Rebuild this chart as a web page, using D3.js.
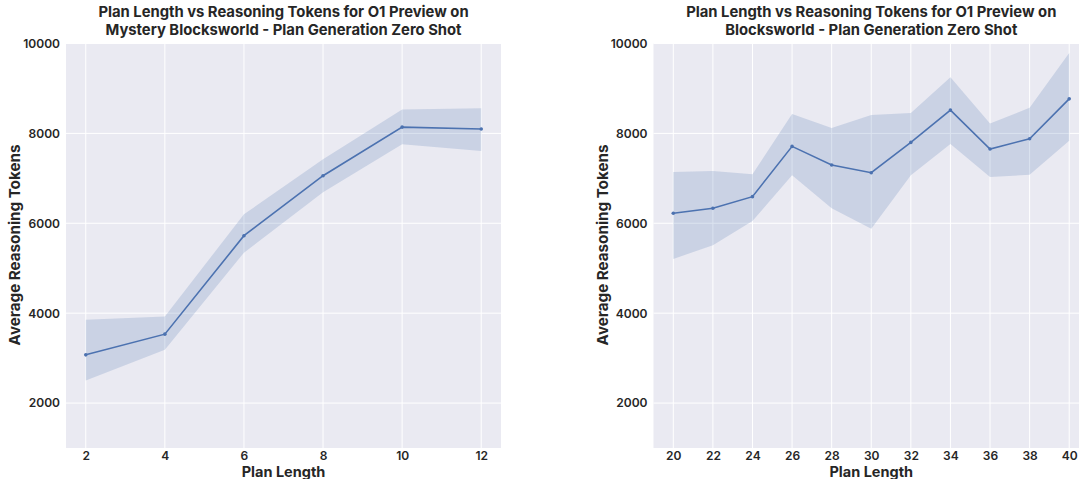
<!DOCTYPE html>
<html>
<head>
<meta charset="utf-8">
<script src="https://cdn.jsdelivr.net/npm/d3@7"></script>
<style>
  body { margin: 0; background: #fff; }
  svg { display: block; font-family: Inter, "Open Sans", sans-serif; }
</style>
</head>
<body>
<svg width="1079" height="479"></svg>
<script>
// mystery blocksworld (left panel)
const mystery_lengths = [2, 4, 6, 8, 10, 12];
const mystery_mean = [3073, 3533, 5724, 7058, 8140, 8096];
const mystery_low = [2502, 3184, 5347, 6689, 7756, 7607];
const mystery_high = [3851, 3925, 6200, 7422, 8533, 8562];

// blocksworld (right panel)
const bw_lengths = [20, 22, 24, 26, 28, 30, 32, 34, 36, 38, 40];
const bw_mean = [6222, 6333, 6592, 7711, 7296, 7125, 7800, 8518, 7652, 7881, 8769];
const bw_low = [5207, 5511, 6051, 7067, 6333, 5881, 7067, 7762, 7029, 7081, 7836];
const bw_high = [7140, 7162, 7089, 8429, 8118, 8407, 8451, 9251, 8222, 8569, 9791];

const y_ticks = [2000, 4000, 6000, 8000, 10000];
const titles = [
  ["Plan Length vs Reasoning Tokens for O1 Preview on", "Mystery Blocksworld - Plan Generation Zero Shot"],
  ["Plan Length vs Reasoning Tokens for O1 Preview on", "Blocksworld - Plan Generation Zero Shot"]
];

const line_color = "#4C72B0";

function draw_panel(svg, cfg) {
  let x = d3.scaleLinear().domain(cfg.xdom).range([cfg.left, cfg.right]);
  let y = d3.scaleLinear().domain([1000, 10000]).range([448, 43.5]);

  let g = svg.append("g");

  g.append("rect")
   .attr("x", cfg.left)
   .attr("y", 43.5)
   .attr("width", cfg.right - cfg.left)
   .attr("height", 448 - 43.5)
   .attr("fill", "#EAEAF2");

  // grid
  g.selectAll(".vgrid")
   .data(cfg.xs)
   .enter()
   .append("line")
   .attr("x1", d => x(d)).attr("x2", d => x(d))
   .attr("y1", 43.5).attr("y2", 448)
   .attr("stroke", "#fff").attr("stroke-width", 1);

  g.selectAll(".hgrid")
   .data(y_ticks)
   .enter()
   .append("line")
   .attr("x1", cfg.left).attr("x2", cfg.right)
   .attr("y1", d => y(d)).attr("y2", d => y(d))
   .attr("stroke", "#fff").attr("stroke-width", 1);

  let rows = cfg.xs.map((v, i) => ({ x: v, m: cfg.mean[i], lo: cfg.low[i], hi: cfg.high[i] }));

  let area = d3.area()
               .x(d => x(d.x))
               .y0(d => y(d.lo))
               .y1(d => y(d.hi));
  g.append("path")
   .datum(rows)
   .attr("d", area)
   .attr("fill", line_color)
   .attr("fill-opacity", 0.2);

  let line = d3.line()
               .x(d => x(d.x))
               .y(d => y(d.m));
  g.append("path")
   .datum(rows)
   .attr("d", line)
   .attr("fill", "none")
   .attr("stroke", line_color)
   .attr("stroke-width", 1.6);

  g.selectAll(".dot")
   .data(rows)
   .enter()
   .append("circle")
   .attr("cx", d => x(d.x))
   .attr("cy", d => y(d.m))
   .attr("r", 1.8)
   .attr("fill", line_color);

  // axes (ticks only, no domain line)
  let xaxis = svg.append("g")
                 .attr("transform", "translate(0,448)")
                 .call(d3.axisBottom(x).tickValues(cfg.xs).tickFormat(d3.format("d")).tickSize(0).tickPadding(3));
  let yaxis = svg.append("g")
                 .attr("transform", "translate(" + cfg.left + ",0)")
                 .call(d3.axisLeft(y).tickValues(y_ticks).tickFormat(d3.format("d")).tickSize(0).tickPadding(6));
  [xaxis, yaxis].forEach(a => {
    a.select(".domain").remove();
    a.selectAll("text")
     .attr("font-family", "Inter, sans-serif")
     .attr("font-size", 12)
     .attr("font-weight", 600)
     .attr("fill", "#262626");
  });

  let cx = (cfg.left + cfg.right) / 2;
  let title = svg.append("text")
                 .attr("text-anchor", "middle")
                 .attr("font-size", 14.8)
                 .attr("font-weight", 700)
                 .attr("fill", "#262626");
  cfg.title.forEach((t, i) => {
    title.append("tspan").attr("x", cx).attr("y", 17 + i * 18).text(t);
  });

  svg.append("text")
     .attr("x", cx).attr("y", 477)
     .attr("text-anchor", "middle")
     .attr("font-size", 14.5)
     .attr("font-weight", 700)
     .attr("fill", "#262626")
     .text("Plan Length");

  svg.append("text")
     .attr("transform", "translate(" + cfg.ylab_x + ",245) rotate(-90)")
     .attr("text-anchor", "middle")
     .attr("font-size", 15.2)
     .attr("font-weight", 700)
     .attr("fill", "#262626")
     .text("Average Reasoning Tokens");
}

let svg = d3.select("svg");

draw_panel(svg, {
  xs: mystery_lengths, mean: mystery_mean, low: mystery_low, high: mystery_high,
  xdom: [1.5, 12.5], left: 66, right: 501, ylab_x: 20, title: titles[0]
});

draw_panel(svg, {
  xs: bw_lengths, mean: bw_mean, low: bw_low, high: bw_high,
  xdom: [19, 41], left: 653.5, right: 1089, ylab_x: 608, title: titles[1]
});
</script>
</body>
</html>
